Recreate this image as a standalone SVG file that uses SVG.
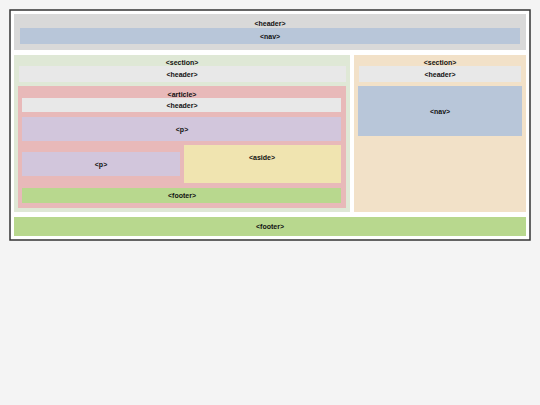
<svg xmlns="http://www.w3.org/2000/svg" width="540" height="405" viewBox="0 0 540 405">
<style>
text{font-family:"Liberation Sans",Arial,sans-serif;font-size:7px;font-weight:bold;fill:#111;text-anchor:middle;dominant-baseline:central}
.hd{fill:#d9d9d9}
.hd2{fill:#e8e8e8}
.nav{fill:#b8c6d9}
.sec1{fill:#dfe8d6}
.sec2{fill:#f2e1c8}
.art{fill:#e8b9b9}
.p{fill:#d2c6dc}
.aside{fill:#f0e4b0}
.foot{fill:#b8d88e}
</style>
<rect width="540" height="405" fill="#f4f4f4"/>
<g id="page">
<rect x="10" y="10" width="520" height="230" fill="#fff" stroke="#333" stroke-width="1.5"/>
</g>
<g id="page-header">
<rect class="hd" x="14" y="14" width="512" height="36"/>
<text x="270" y="23">&lt;header&gt;</text>
</g>
<g id="page-nav">
<rect class="nav" x="20" y="28" width="500" height="16"/>
<text x="270" y="36">&lt;nav&gt;</text>
</g>
<g id="section-left">
<rect class="sec1" x="14" y="55" width="336" height="157"/>
<text x="182" y="62">&lt;section&gt;</text>
</g>
<g id="section-left-header">
<rect class="hd2" x="19" y="66" width="327" height="16"/>
<text x="182" y="74">&lt;header&gt;</text>
</g>
<g id="article">
<rect class="art" x="18" y="86" width="328" height="122"/>
<text x="182" y="94">&lt;article&gt;</text>
</g>
<g id="article-header">
<rect class="hd2" x="22" y="98" width="319" height="14"/>
<text x="182" y="105">&lt;header&gt;</text>
</g>
<g id="p1">
<rect class="p" x="22" y="117" width="319" height="24"/>
<text x="182" y="129">&lt;p&gt;</text>
</g>
<g id="p2">
<rect class="p" x="22" y="152" width="158" height="24"/>
<text x="101" y="164">&lt;p&gt;</text>
</g>
<g id="aside">
<rect class="aside" x="184" y="145" width="157" height="38"/>
<text x="262" y="157">&lt;aside&gt;</text>
</g>
<g id="article-footer">
<rect class="foot" x="22" y="188" width="319" height="15"/>
<text x="182" y="195.5">&lt;footer&gt;</text>
</g>
<g id="section-right">
<rect class="sec2" x="354" y="55" width="172" height="157"/>
<text x="440" y="62">&lt;section&gt;</text>
</g>
<g id="section-right-header">
<rect class="hd2" x="359" y="66" width="162" height="16"/>
<text x="440" y="74">&lt;header&gt;</text>
</g>
<g id="section-right-nav">
<rect class="nav" x="358" y="86" width="164" height="50"/>
<text x="440" y="111">&lt;nav&gt;</text>
</g>
<g id="page-footer">
<rect class="foot" x="14" y="217" width="512" height="19"/>
<text x="270" y="226.5">&lt;footer&gt;</text>
</g>
<g id="connectors"/>
</svg>
